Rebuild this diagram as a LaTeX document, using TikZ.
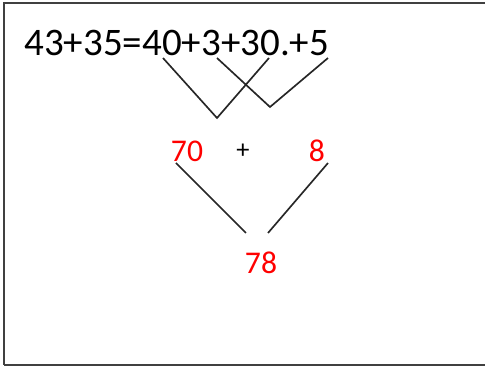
\documentclass[tikz,border=0pt]{standalone}
\usepackage{fontspec}
\setmainfont{Carlito}
\usetikzlibrary{positioning}
\definecolor{sumred}{HTML}{FF0000}

\begin{document}
\begin{tikzpicture}[x=0.02cm, y=-0.02cm,
    bigtext/.style={inner sep=0pt, anchor=base west, font=\fontsize{22.2}{26}\selectfont},
    part/.style={inner sep=0pt, text=sumred, font=\fontsize{18}{22}\selectfont},
    link/.style={line width=0.95pt, black!85},
]
    \useasboundingbox (0,0) rectangle (485,372);
    \draw[line width=1.6pt, black!75] (4,365) -- (4,3) -- (490,3);
    \draw[line width=1.6pt, black!75] (4,365) -- (490,365);

    \node[bigtext] (eq) at (24,55) {43+35=40+3+30.+5};

    % tens and ones joined
    \coordinate (tA) at (163,58);
    \coordinate (tB) at (217,118);
    \coordinate (tC) at (269,58);
    \coordinate (oA) at (217,58);
    \coordinate (oB) at (270,107);
    \coordinate (oC) at (328,58);
    \draw[link] (tA) -- (tB) -- (tC);
    \draw[link] (oA) -- (oB) -- (oC);

    \node[part] (tens) at (187,151) {70};
    \node[inner sep=0pt, font=\fontsize{15}{17}\selectfont] (plus) at (243,151) {+};
    \node[part] (ones) at (317,151) {8};
    \node[part] (total) at (261,263) {78};

    \coordinate (tensstart) at (176,163);
    \coordinate (tensend) at (246,233);
    \coordinate (onesstart) at (328,163);
    \coordinate (onesend) at (268,233);
    \draw[link] (tensstart) -- (tensend);
    \draw[link] (onesstart) -- (onesend);
\end{tikzpicture}
\end{document}
